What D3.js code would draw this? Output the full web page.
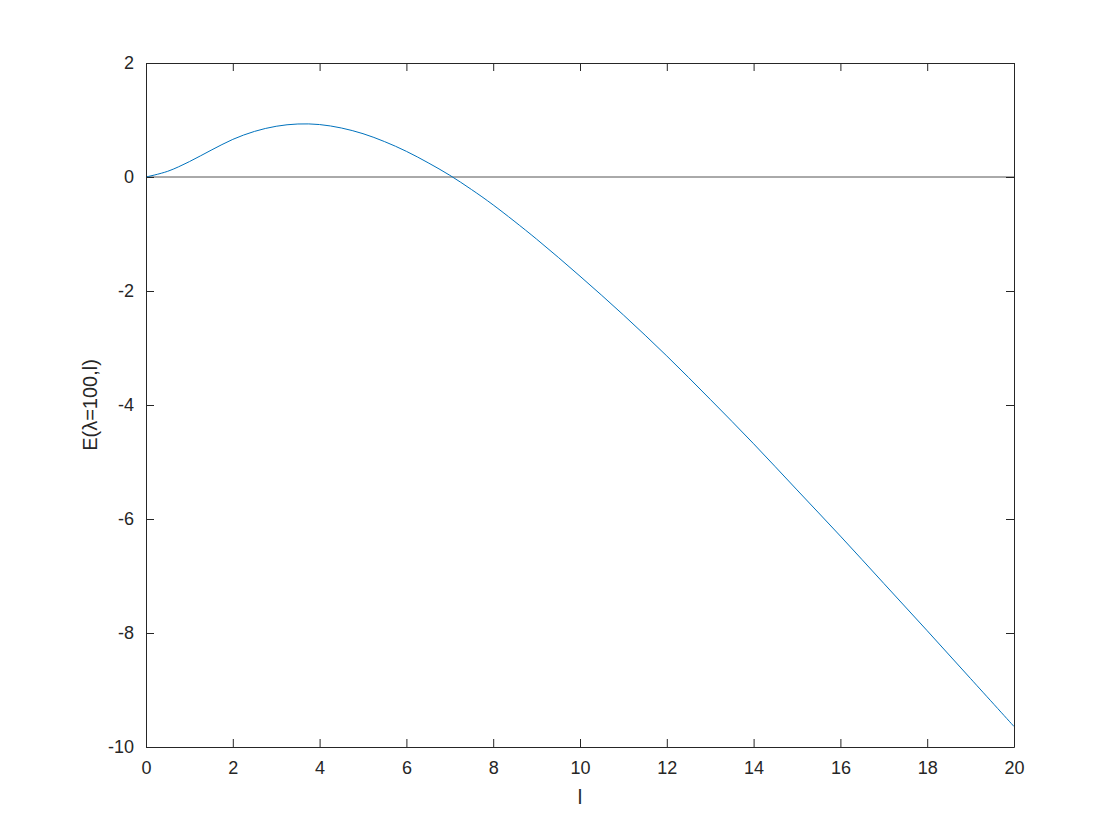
<!DOCTYPE html>
<html>
<head>
<meta charset="utf-8">
<script src="https://cdn.jsdelivr.net/npm/d3@7"></script>
<style>
  html, body { margin: 0; padding: 0; background: #fff; }
  svg { display: block; }
  text { font-family: "Liberation Sans", Arial, Helvetica, sans-serif; fill: #262626; }
</style>
</head>
<body>
<svg id="chart" width="1120" height="840"></svg>
<script>
// Data
const lValues = [0, 0.5, 1, 1.5, 2, 2.5, 3, 3.5, 4, 4.5, 5, 5.5, 6, 6.5, 7, 7.5, 8, 9, 10, 11, 12, 13, 14, 15, 16, 17, 18, 19, 20];
const eValues = [0, 0.10, 0.27, 0.47, 0.66, 0.80, 0.89, 0.93, 0.92, 0.86, 0.76, 0.62, 0.45, 0.25, 0.03, -0.22, -0.49, -1.09, -1.74, -2.42, -3.14, -3.90, -4.68, -5.49, -6.30, -7.13, -7.96, -8.80, -9.64];
const xTicks = [0, 2, 4, 6, 8, 10, 12, 14, 16, 18, 20];
const yTicks = [-10, -8, -6, -4, -2, 0, 2];
const xLabel = "l";
const yLabel = "E(λ=100,l)";

const svg = d3.select("#chart");
const mLeft = 146, mRight = 1014, mTop = 63, mBottom = 747;
const x = d3.scaleLinear().domain([0, 20]).range([mLeft, mRight]);
const y = d3.scaleLinear().domain([-10, 2]).range([mBottom, mTop]);
const tickLen = 8;
const axisColor = "#262626";
const fmt = d => String(d);

// zero reference line
svg.append("line")
  .attr("x1", x(0)).attr("x2", x(20))
  .attr("y1", y(0)).attr("y2", y(0))
  .attr("stroke", "#555555").attr("stroke-width", 1);

// curve
const data = lValues.map((l, i) => [l, eValues[i]]);
svg.append("path")
  .datum(data)
  .attr("fill", "none")
  .attr("stroke", "#0072BD")
  .attr("stroke-width", 1)
  .attr("d", d3.line().x(d => x(d[0])).y(d => y(d[1])).curve(d3.curveCatmullRom.alpha(0.5)));

// axes (ticks inward, MATLAB box style)
const fontSize = "18px";
const gx = svg.append("g").attr("transform", `translate(0,${mBottom})`)
  .call(d3.axisBottom(x).tickValues(xTicks).tickSizeInner(-tickLen).tickSizeOuter(0).tickPadding(14).tickFormat(fmt));
const gxTop = svg.append("g").attr("transform", `translate(0,${mTop})`)
  .call(d3.axisTop(x).tickValues(xTicks).tickSizeInner(-tickLen).tickSizeOuter(0).tickFormat(""));
const gy = svg.append("g").attr("transform", `translate(${mLeft},0)`)
  .call(d3.axisLeft(y).tickValues(yTicks).tickSizeInner(-tickLen).tickSizeOuter(0).tickPadding(12).tickFormat(fmt));
const gyRight = svg.append("g").attr("transform", `translate(${mRight},0)`)
  .call(d3.axisRight(y).tickValues(yTicks).tickSizeInner(-tickLen).tickSizeOuter(0).tickFormat(""));

[gx, gxTop, gy, gyRight].forEach(g => {
  g.selectAll(".domain").attr("stroke", axisColor).attr("stroke-width", 1);
  g.selectAll(".tick line").attr("stroke", axisColor).attr("stroke-width", 1);
  g.selectAll(".tick text").attr("font-size", fontSize).attr("fill", axisColor)
    .style("font-family", "'Liberation Sans', Arial, Helvetica, sans-serif");
});

// axis labels
svg.append("text")
  .attr("x", (mLeft + mRight) / 2).attr("y", 804)
  .attr("text-anchor", "middle")
  .attr("font-size", "20px")
  .text(xLabel);

svg.append("text")
  .attr("transform", `translate(97,${(mTop + mBottom) / 2}) rotate(-90)`)
  .attr("text-anchor", "middle")
  .attr("font-size", "20px")
  .text(yLabel);
</script>
</body>
</html>
